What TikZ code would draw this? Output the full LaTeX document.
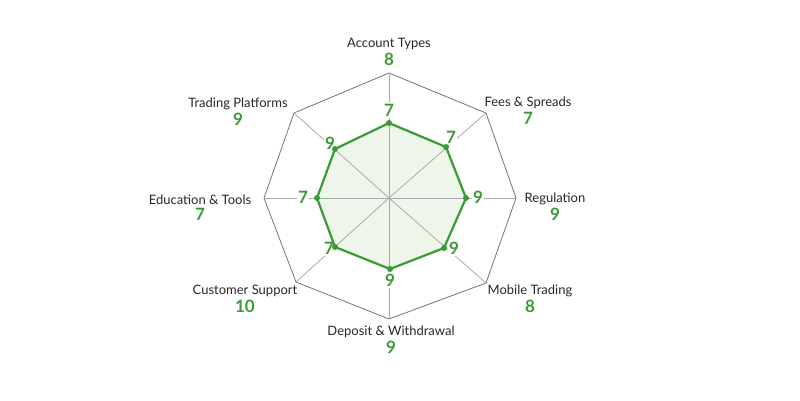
\documentclass[tikz,border=0pt]{standalone}
\usepackage{fontspec}
\setmainfont{Lato}
\usetikzlibrary{positioning}
\definecolor{ScoreGreen}{RGB}{58,154,52}
\definecolor{ScoreFill}{RGB}{238,246,236}
\definecolor{GridGrey}{RGB}{115,115,115}
\definecolor{SpokeGrey}{RGB}{170,170,170}
\tikzset{
    grid line/.style={draw=GridGrey, line width=0.8pt, line join=miter},
    spoke line/.style={draw=SpokeGrey, line width=0.8pt},
    score line/.style={draw=ScoreGreen, line width=2.2pt, line join=round},
    score dot/.style={circle, fill=ScoreGreen, inner sep=0pt, minimum size=6pt},
    axis name/.style={font=\fontsize{13}{14}\selectfont, text=black!85, inner sep=0pt},
    axis score/.style={font=\fontsize{17}{18}\selectfont\bfseries, text=ScoreGreen, inner sep=0pt},
    inner score/.style={font=\fontsize{17}{18}\selectfont\bfseries, text=ScoreGreen, fill=white, inner sep=1.5pt}
}

\begin{document}
\begin{tikzpicture}[x=1pt, y=1pt]

\useasboundingbox (-389,-202) rectangle (411,198);

\coordinate (O) at (0, 0);

% Vertices of the outer octagon
\coordinate (OutA) at (0, 125);
\coordinate (OutB) at (97, 85);
\coordinate (OutC) at (127, 0);
\coordinate (OutD) at (97, -85);
\coordinate (OutE) at (0, -121);
\coordinate (OutF) at (-93, -84);
\coordinate (OutG) at (-125, 0);
\coordinate (OutH) at (-95, 85);

% Points of the score polygon
\coordinate (InA) at (0, 75);
\coordinate (InB) at (57, 51);
\coordinate (InC) at (77, 0);
\coordinate (InD) at (55, -50);
\coordinate (InE) at (1, -71);
\coordinate (InF) at (-54, -49);
\coordinate (InG) at (-72, 0);
\coordinate (InH) at (-54, 49);

% Filled area of the scores
\fill[ScoreFill] (InA) -- (InB) -- (InC) -- (InD) -- (InE) -- (InF) -- (InG) -- (InH) -- cycle;

% Outer octagon and spokes
\draw[grid line] (OutA) -- (OutB) -- (OutC) -- (OutD) -- (OutE) -- (OutF) -- (OutG) -- (OutH) -- cycle;
\draw[spoke line] (O) -- (OutA);
\draw[spoke line] (O) -- (OutB);
\draw[spoke line] (O) -- (OutC);
\draw[spoke line] (O) -- (OutD);
\draw[spoke line] (O) -- (OutE);
\draw[spoke line] (O) -- (OutF);
\draw[spoke line] (O) -- (OutG);
\draw[spoke line] (O) -- (OutH);

% Scores next to the polygon
\node[inner score] (ScoreA) at (0, 88) {7};
\node[inner score] (ScoreB) at (62, 61) {7};
\node[inner score] (ScoreC) at (89, 1) {9};
\node[inner score] (ScoreD) at (65, -50) {9};
\node[inner score] (ScoreE) at (1, -82) {9};
\node[inner score] (ScoreF) at (-60, -50) {7};
\node[inner score] (ScoreG) at (-86, 1) {7};
\node[inner score] (ScoreH) at (-59, 55) {9};

% Score polygon
\draw[score line] (InA) -- (InB) -- (InC) -- (InD) -- (InE) -- (InF) -- (InG) -- (InH) -- cycle;
\node[score dot] (DotA) at (InA) {};
\node[score dot] (DotB) at (InB) {};
\node[score dot] (DotC) at (InC) {};
\node[score dot] (DotD) at (InD) {};
\node[score dot] (DotE) at (InE) {};
\node[score dot] (DotF) at (InF) {};
\node[score dot] (DotG) at (InG) {};
\node[score dot] (DotH) at (InH) {};

% Names of the axes with their ratings
\node[axis name] (NameA) at (0, 154) {Account Types};
\node[axis score, below=3pt of NameA] (RateA) {8};
\node[axis name] (NameB) at (139, 95) {Fees \& Spreads};
\node[axis score, below=3pt of NameB] (RateB) {7};
\node[axis name] (NameC) at (166, -1) {Regulation};
\node[axis score, below=3pt of NameC] (RateC) {9};
\node[axis name] (NameD) at (141, -93) {Mobile Trading};
\node[axis score, below=3pt of NameD] (RateD) {8};
\node[axis name] (NameE) at (2, -134) {Deposit \& Withdrawal};
\node[axis score, below=3pt of NameE] (RateE) {9};
\node[axis name] (NameF) at (-144, -93) {Customer Support};
\node[axis score, below=3pt of NameF] (RateF) {10};
\node[axis name] (NameG) at (-189, -2) {Education \& Tools};
\node[axis score, below=3pt of NameG] (RateG) {7};
\node[axis name] (NameH) at (-151, 94) {Trading Platforms};
\node[axis score, below=3pt of NameH] (RateH) {9};

\end{tikzpicture}
\end{document}
